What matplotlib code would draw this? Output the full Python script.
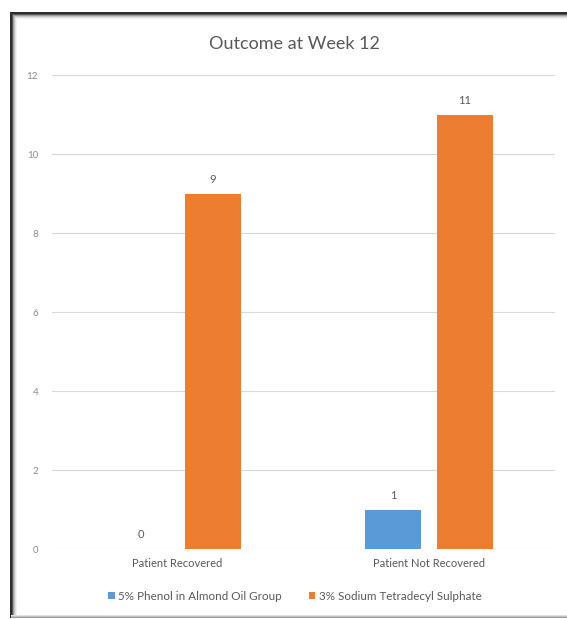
import numpy as np
import matplotlib.pyplot as plt
from matplotlib.lines import Line2D
from matplotlib.patches import Patch

# data
categories = ['Patient Recovered', 'Patient Not Recovered']
series_names = ['5% Phenol in Almond Oil Group', '3% Sodium Tetradecyl Sulphate']
phenol = [0, 1]
sodium = [9, 11]
y_ticks = [0, 2, 4, 6, 8, 10, 12]

colors = ['#5B9BD5', '#ED7D31']
text_gray = '#595959'
plt.rcParams['font.family'] = ['Lato', 'DejaVu Sans']

W, H = 567, 619
fig = plt.figure(figsize=(W / 100, H / 100), dpi=100)
fig.patch.set_facecolor('white')


def fx(px):
    return px / W


def fy(py):
    return 1 - py / H


ax = fig.add_axes([fx(52), fy(549.3), fx(555) - fx(52), fy(75.3) - fy(549.3)])

x = np.arange(len(categories))
bar_w = 0.222
off = 0.143
b1 = ax.bar(x - off, phenol, bar_w, color=colors[0], zorder=3)
b2 = ax.bar(x + off, sodium, bar_w, color=colors[1], zorder=3)

# value labels above each bar
for bars, vals in [(b1, phenol), (b2, sodium)]:
    for rect, v in zip(bars, vals):
        ax.annotate(str(v), (rect.get_x() + rect.get_width() / 2, v),
                    xytext=(0, 10.5), textcoords='offset points',
                    ha='center', va='center', fontsize=8, color=text_gray)

ax.set_xlim(-0.496, 1.5)
ax.set_ylim(0, 12)
ax.set_yticks(y_ticks)
ax.set_xticks(x)
ax.set_xticklabels(categories)
ax.tick_params(axis='y', length=0, pad=10, labelsize=7, labelcolor='#8C8C8C')
ax.tick_params(axis='x', length=0, pad=6, labelsize=8, labelcolor=text_gray)
ax.grid(axis='y', color='#D9D9D9', linewidth=0.8, zorder=0)
for s in ax.spines.values():
    s.set_visible(False)

fig.text(fx(294), fy(44), 'Outcome at Week 12', ha='center', va='center',
         fontsize=13, color=text_gray)

handles = [Patch(facecolor=c, edgecolor='none') for c in colors]
fig.legend(handles, series_names, loc='center', bbox_to_anchor=(fx(295), fy(596)),
           ncol=2, frameon=False, fontsize=8.4, labelcolor=text_gray,
           handlelength=0.55, handleheight=0.55, handletextpad=0.3,
           columnspacing=2.3)

# dark frame with an inner shadow
left, top, bottom, right = 10.7, 12.7, 617, 575
shade = ['#2b2b2b', '#5a5a5a', '#9a9a9a', '#c4c4c4', '#e0e0e0', '#f0f0f0']
for i, c in enumerate(shade):
    lw = 2.0 if i == 0 else 1.0
    fig.add_artist(Line2D([fx(left + i), fx(right)], [fy(top + i), fy(top + i)],
                          color=c, lw=lw * 0.72))
    fig.add_artist(Line2D([fx(left + i), fx(left + i)], [fy(top + i), fy(bottom)],
                          color=c, lw=lw * 0.72))
for i, c in enumerate(['#9a9a9a', '#c0c0c0', '#e2e2e2']):
    fig.add_artist(Line2D([fx(left), fx(right)], [fy(bottom - i), fy(bottom - i)],
                          color=c, lw=0.8))

fig.savefig('out.png', dpi=100)
